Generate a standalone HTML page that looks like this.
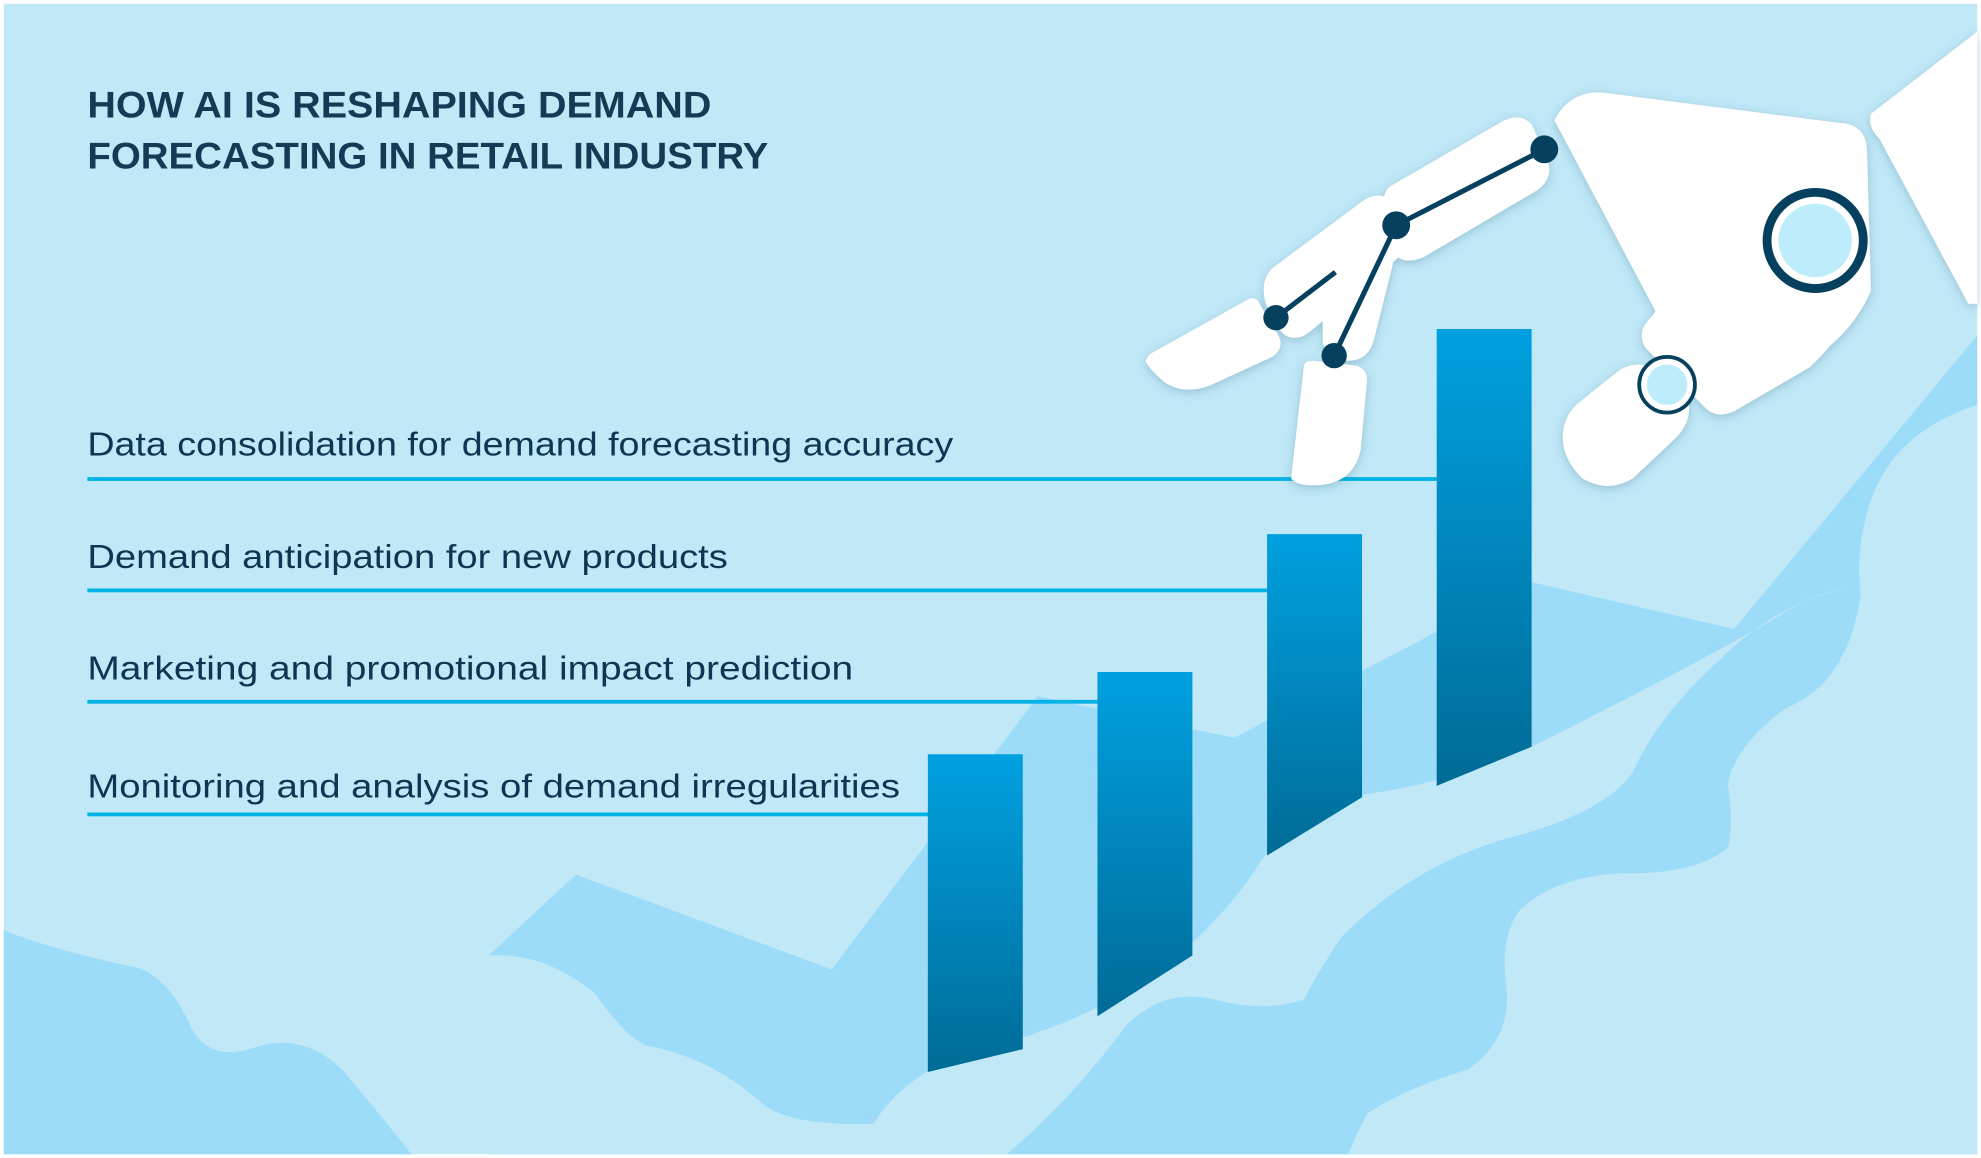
<!DOCTYPE html>
<html><head><meta charset="utf-8"><style>
html,body{margin:0;padding:0;background:#fff;}
svg{display:block;}
</style></head><body>
<svg width="1981" height="1158" viewBox="0 0 1565 915" preserveAspectRatio="none" xmlns="http://www.w3.org/2000/svg">
<defs>
<linearGradient id="g" x1="0" y1="0" x2="0" y2="1">
<stop offset="0" stop-color="#00a0e0"/><stop offset="1" stop-color="#006b96"/>
</linearGradient>
<filter id="sh" x="-20%" y="-20%" width="140%" height="140%"><feDropShadow dx="0" dy="2" stdDeviation="4" flood-color="#4a7a90" flood-opacity="0.35"/></filter>
</defs>
<rect x="0" y="0" width="1565" height="915" fill="#fff"/>
<rect x="3" y="3" width="1559" height="909" fill="#c0e8f7"/>
<!-- background mountains -->
<path d="M386,755 L455,691 L657,766 L820,550 L975,583 L1210,460 L1370,497 L1562,265 L1562,912 L386,912 Z" fill="#9ddcf8"/>
<path d="M3,735 Q40,750 110,765 Q135,775 150,810 Q165,840 200,828 Q240,815 270,845 Q300,880 325,912 L3,912 Z" fill="#9ddcf8"/>
<!-- lighter waves -->
<path d="M386,755 Q430,752 470,785 Q495,820 510,826 Q560,835 600,870 Q620,890 690,888 Q720,840 790,825 Q920,790 990,690 Q1020,640 1060,630 Q1150,620 1220,585 Q1330,530 1400,490 Q1430,470 1455,465 Q1400,480 1360,520 Q1310,565 1290,610 Q1270,640 1200,660 Q1120,680 1060,740 Q1040,770 1030,790 Q1000,800 960,790 Q920,780 890,810 Q860,850 830,880 Q810,900 795,912 L386,912 Z" fill="#c0e8f7"/>
<path d="M1562,320 Q1500,340 1480,390 Q1465,430 1470,470 Q1460,540 1410,560 Q1370,590 1365,620 Q1370,650 1365,670 Q1340,690 1290,690 Q1230,690 1200,720 Q1185,740 1190,780 Q1195,820 1160,845 Q1110,860 1080,880 Q1070,900 1065,912 L1562,912 Z" fill="#c0e8f7"/>
<!-- lines -->
<g fill="#00b2e6">
<rect x="69" y="377" width="1070" height="3"/>
<rect x="69" y="465" width="935" height="3"/>
<rect x="69" y="553" width="800" height="3"/>
<rect x="69" y="642" width="666" height="3"/>
</g>
<!-- bars -->
<g fill="url(#g)">
<path d="M733,596 H808 V829 L733,847 Z"/>
<path d="M867,531 H942 V755 L867,803 Z"/>
<path d="M1001,422 H1076 V630 L1001,676 Z"/>
<path d="M1135,260 H1210 V590 L1135,621 Z"/>
</g>
<!-- robot hand -->
<g fill="#fff" filter="url(#sh)">
<path d="M1228,95 Q1240,72 1265,73 L1460,98 Q1475,102 1475,120 L1478,230 Q1460,270 1420,290 L1310,250 Z"/>
<path d="M1478,90 L1562,25 L1562,240 L1555,240 L1485,110 Q1475,100 1478,90 Z"/>
<path d="M1305,250 L1360,175 Q1375,158 1400,157 Q1460,160 1470,210 Q1472,250 1430,290 L1370,325 Q1355,332 1345,320 L1300,275 Q1292,262 1305,250 Z"/>
<path d="M1245,320 L1280,292 Q1295,284 1310,292 Q1325,300 1333,315 Q1338,330 1325,345 L1290,378 Q1270,390 1250,378 Q1232,360 1235,340 Q1237,328 1245,320 Z"/>
<path d="M1097,148 L1185,97 Q1200,88 1210,98 L1222,125 Q1228,140 1215,150 L1125,203 Q1110,210 1100,200 L1093,175 Q1090,158 1097,148 Z"/>
<path d="M1005,212 L1075,160 Q1088,150 1098,158 L1110,180 Q1115,195 1103,205 L1035,262 Q1022,272 1012,262 L1000,240 Q995,222 1005,212 Z"/>
<path d="M1058,195 Q1066,182 1080,185 Q1105,190 1100,210 L1085,270 Q1080,285 1065,285 Q1045,282 1045,268 L1045,250 Z"/>
<path d="M908,280 L985,237 Q992,233 995,240 L1010,265 Q1015,275 1005,282 L955,305 Q935,312 920,302 Q908,292 905,285 Z"/>
<path d="M1030,290 Q1030,285 1037,285 L1072,289 Q1080,292 1080,300 L1075,355 Q1070,380 1045,383 Q1025,385 1020,378 Z"/>
</g>
<g stroke="#05405e" stroke-width="4" fill="none">
<line x1="1220" y1="118" x2="1103" y2="178"/>
<line x1="1103" y1="178" x2="1054" y2="281"/>
<line x1="1008" y1="251" x2="1055" y2="215"/>
</g>
<g fill="#05405e">
<circle cx="1220" cy="118" r="11"/><circle cx="1103" cy="178" r="11"/>
<circle cx="1008" cy="251" r="10"/><circle cx="1054" cy="281" r="10"/>
</g>
<circle cx="1434" cy="190" r="38" fill="#fff" stroke="#05405e" stroke-width="7"/>
<circle cx="1434" cy="190" r="29" fill="#bdecfa"/>
<circle cx="1317" cy="304" r="22" fill="#fff" stroke="#05405e" stroke-width="3"/>
<circle cx="1317" cy="304" r="16" fill="#bdecfa"/>
<!-- text -->
<g font-family="Liberation Sans, sans-serif" fill="#163a56">
<text x="69" y="93" font-size="29" font-weight="bold" textLength="493" lengthAdjust="spacingAndGlyphs">HOW AI IS RESHAPING DEMAND</text>
<text x="69" y="133" font-size="29" font-weight="bold" textLength="538" lengthAdjust="spacingAndGlyphs">FORECASTING IN RETAIL INDUSTRY</text>
</g>
<g font-family="Liberation Sans, sans-serif" fill="#0e3552" font-size="26">
<text x="69" y="360" textLength="684" lengthAdjust="spacingAndGlyphs">Data consolidation for demand forecasting accuracy</text>
<text x="69" y="449" textLength="506" lengthAdjust="spacingAndGlyphs">Demand anticipation for new products</text>
<text x="69" y="537" textLength="605" lengthAdjust="spacingAndGlyphs">Marketing and promotional impact prediction</text>
<text x="69" y="630" textLength="642" lengthAdjust="spacingAndGlyphs">Monitoring and analysis of demand irregularities</text>
</g>
</svg>
</body></html>
